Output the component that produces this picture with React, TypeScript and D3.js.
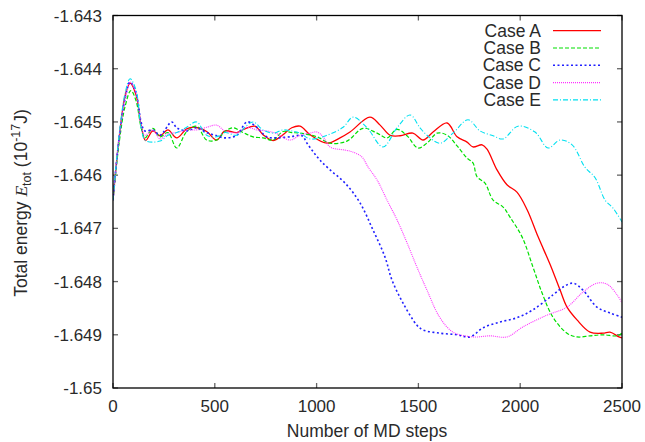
import { useRef, useEffect } from "react";
import * as d3 from "d3";

// [MD step, total energy (1e-17 J)]
const caseA = [
  [0, -1.64647], [30, -1.6453], [60, -1.6445], [84, -1.64427], [113, -1.64449], [138, -1.64506],
  [160, -1.64535], [196, -1.64517], [231, -1.64526], [270, -1.64515], [313, -1.6453], [362, -1.64513],
  [403, -1.6451], [460, -1.64518], [509, -1.64534], [550, -1.64517], [608, -1.6452], [648, -1.64513],
  [697, -1.64508], [737, -1.64524], [786, -1.64535], [835, -1.64524], [878, -1.64511], [919, -1.64508],
  [968, -1.64524], [1051, -1.6454], [1115, -1.6453], [1164, -1.64519], [1262, -1.64491], [1312, -1.64506],
  [1361, -1.64525], [1410, -1.64526], [1473, -1.64521], [1523, -1.64534], [1572, -1.64519], [1641, -1.64502],
  [1690, -1.64528], [1739, -1.64538], [1768, -1.64547], [1813, -1.64543], [1837, -1.64551], [1886, -1.6459],
  [1935, -1.64618], [1984, -1.64632], [2034, -1.64665], [2088, -1.64716], [2147, -1.64768], [2196, -1.64816],
  [2230, -1.64848], [2279, -1.64872], [2343, -1.64895], [2407, -1.64897], [2441, -1.64895], [2485, -1.64904],
  [2500, -1.64906],
];
const caseB = [
  [0, -1.64647], [30, -1.6454], [60, -1.6447], [88, -1.64441], [113, -1.6446], [138, -1.6451],
  [157, -1.6453], [196, -1.64512], [231, -1.64528], [270, -1.6452], [313, -1.64549], [362, -1.64518],
  [411, -1.64508], [460, -1.64534], [509, -1.64534], [550, -1.64518], [589, -1.64511], [639, -1.6452],
  [688, -1.64528], [737, -1.6453], [786, -1.64534], [835, -1.64518], [878, -1.6452], [919, -1.64521],
  [1002, -1.64528], [1066, -1.6454], [1149, -1.64536], [1228, -1.64512], [1297, -1.64521], [1346, -1.6453],
  [1395, -1.64514], [1444, -1.64526], [1498, -1.64549], [1547, -1.64538], [1592, -1.64521], [1641, -1.64525],
  [1690, -1.64545], [1739, -1.64568], [1768, -1.64577], [1788, -1.64603], [1827, -1.64615], [1867, -1.64647],
  [1916, -1.6466], [1950, -1.64679], [2009, -1.64716], [2063, -1.64773], [2107, -1.64821], [2161, -1.64867],
  [2230, -1.64897], [2279, -1.64904], [2343, -1.64902], [2407, -1.649], [2476, -1.64902], [2500, -1.64897],
];
const caseC = [
  [0, -1.64647], [30, -1.6453], [60, -1.64455], [84, -1.64425], [113, -1.64445], [138, -1.645],
  [157, -1.64517], [196, -1.64515], [231, -1.64525], [288, -1.645], [313, -1.64511], [362, -1.64517],
  [411, -1.64511], [460, -1.6452], [501, -1.64525], [550, -1.6453], [608, -1.64525], [658, -1.645],
  [706, -1.6451], [755, -1.64528], [804, -1.6453], [869, -1.64528], [928, -1.64526], [953, -1.6454],
  [983, -1.64556], [1017, -1.64572], [1066, -1.6459], [1140, -1.64615], [1213, -1.64652], [1277, -1.64703],
  [1336, -1.64754], [1370, -1.64797], [1424, -1.6484], [1493, -1.64882], [1523, -1.64891], [1606, -1.64897],
  [1690, -1.649], [1754, -1.64904], [1817, -1.64887], [1901, -1.64876], [1984, -1.64868], [2063, -1.64853],
  [2161, -1.64825], [2220, -1.64808], [2260, -1.64803], [2308, -1.64816], [2377, -1.64848], [2441, -1.64859],
  [2500, -1.64867],
];
const caseD = [
  [0, -1.64647], [30, -1.6453], [60, -1.64455], [84, -1.64425], [113, -1.64445], [138, -1.64505],
  [157, -1.64525], [196, -1.64515], [231, -1.64532], [270, -1.64522], [313, -1.6452], [362, -1.64515],
  [411, -1.64515], [460, -1.6451], [509, -1.64506], [550, -1.64517], [608, -1.6452], [658, -1.6451],
  [706, -1.64515], [755, -1.64517], [804, -1.64522], [869, -1.64534], [919, -1.64525], [968, -1.64521],
  [1002, -1.64519], [1032, -1.64528], [1066, -1.64547], [1140, -1.64553], [1174, -1.64556], [1223, -1.64566],
  [1253, -1.64585], [1297, -1.64609], [1346, -1.64647], [1395, -1.64684], [1444, -1.64727], [1493, -1.64773],
  [1542, -1.64816], [1606, -1.64868], [1670, -1.64895], [1768, -1.64904], [1852, -1.64902], [1935, -1.64904],
  [2014, -1.64885], [2132, -1.64863], [2230, -1.64848], [2308, -1.6482], [2377, -1.64803], [2427, -1.64805],
  [2476, -1.64825], [2500, -1.6484],
];
const caseE = [
  [0, -1.64647], [30, -1.64525], [60, -1.64445], [84, -1.64419], [113, -1.6444], [138, -1.6451],
  [160, -1.64535], [231, -1.64536], [270, -1.64525], [313, -1.6452], [362, -1.6451], [411, -1.645],
  [460, -1.64525], [509, -1.64528], [550, -1.6452], [608, -1.64525], [648, -1.6451], [688, -1.645],
  [737, -1.64515], [786, -1.64521], [835, -1.64515], [878, -1.64517], [919, -1.64521], [968, -1.64532],
  [1051, -1.64525], [1130, -1.6451], [1179, -1.64491], [1248, -1.64511], [1326, -1.64547], [1395, -1.64511],
  [1459, -1.64487], [1508, -1.64511], [1542, -1.64525], [1606, -1.6454], [1670, -1.64521], [1744, -1.64496],
  [1803, -1.64517], [1867, -1.64526], [1916, -1.64532], [1989, -1.64508], [2073, -1.64519], [2137, -1.64549],
  [2196, -1.64534], [2255, -1.64543], [2318, -1.64585], [2368, -1.64605], [2417, -1.64647], [2456, -1.64662],
  [2500, -1.64688],
];

const caseNames = ["Case A", "Case B", "Case C", "Case D", "Case E"];
const caseData = [caseA, caseB, caseC, caseD, caseE];
const caseColors = ["#ff0000", "#00e000", "#2020ff", "#ff30ff", "#00e0f0"];
const caseDashes = ["none", "4,2", "2,2.5", "1,1", "5,2,1,2"];
const caseWidths = [1.3, 1.2, 1.6, 1.1, 1.1];

const xTicks = [0, 500, 1000, 1500, 2000, 2500];
const yTicks = [-1.65, -1.649, -1.648, -1.647, -1.646, -1.645, -1.644, -1.643];
const yTickLabels = ["-1.65", "-1.649", "-1.648", "-1.647", "-1.646", "-1.645", "-1.644", "-1.643"];

const FONT = "'Liberation Sans', Arial, Helvetica, sans-serif";

function drawChart(svgRef) {
    const width = 645,
        height = 442;
    const left = 113, right = 622, top = 15.5, bottom = 388;

    const svg = d3.select(svgRef.current);
    svg.selectAll("*").remove();
    svg.attr("width", width).attr("height", height).attr("viewBox", `0 0 ${width} ${height}`);

    svg.append("rect").attr("width", width).attr("height", height).attr("fill", "#fff");

    const x = d3.scaleLinear().domain([0, 2500]).range([left, right]);
    const y = d3.scaleLinear().domain([-1.65, -1.643]).range([bottom, top]);

    svg.append("defs").append("clipPath").attr("id", "plot-clip")
        .append("rect")
        .attr("x", left).attr("y", top)
        .attr("width", right - left).attr("height", bottom - top);

    // mirrored inward ticks
    const tickLen = 5;
    const ticks = svg.append("g").attr("stroke", "#666").attr("stroke-width", 1.3);
    xTicks.forEach(t => {
        ticks.append("line").attr("x1", x(t)).attr("x2", x(t)).attr("y1", bottom).attr("y2", bottom - tickLen);
        ticks.append("line").attr("x1", x(t)).attr("x2", x(t)).attr("y1", top).attr("y2", top + tickLen);
    });
    yTicks.forEach(t => {
        ticks.append("line").attr("x1", left).attr("x2", left + tickLen).attr("y1", y(t)).attr("y2", y(t));
        ticks.append("line").attr("x1", right).attr("x2", right - tickLen).attr("y1", y(t)).attr("y2", y(t));
    });

    const labels = svg.append("g").attr("font-family", FONT).attr("fill", "#2a2a2a");
    labels.selectAll(".xt")
        .data(xTicks)
        .join("text")
        .attr("x", d => x(d))
        .attr("y", 412)
        .attr("text-anchor", "middle")
        .attr("font-size", 17)
        .text(d => d);
    labels.selectAll(".yt")
        .data(yTicks)
        .join("text")
        .attr("x", 102)
        .attr("y", d => y(d) + 6)
        .attr("text-anchor", "end")
        .attr("font-size", 17)
        .text((d, i) => yTickLabels[i]);

    labels.append("text")
        .attr("x", 367)
        .attr("y", 437)
        .attr("text-anchor", "middle")
        .attr("font-size", 17.5)
        .text("Number of MD steps");

    const yl = labels.append("text")
        .attr("transform", "translate(27,203) rotate(-90)")
        .attr("text-anchor", "middle")
        .attr("font-size", 17.5);
    yl.append("tspan").text("Total energy ");
    yl.append("tspan").attr("font-family", "'Liberation Serif', 'DejaVu Serif', serif").attr("font-style", "italic").text("E");
    yl.append("tspan").attr("font-size", 12.5).attr("dy", 4).text("tot");
    yl.append("tspan").attr("dy", -4).text(" (10");
    yl.append("tspan").attr("font-size", 12.5).attr("dy", -7).text("-17");
    yl.append("tspan").attr("dy", 7).text("J)");

    const line = d3.line()
        .x(d => x(d[0]))
        .y(d => y(d[1]))
        .curve(d3.curveCatmullRom.alpha(0.5));

    const plot = svg.append("g").attr("clip-path", "url(#plot-clip)");
    caseData.forEach((data, i) => {
        plot.append("path")
            .attr("d", line(data))
            .attr("fill", "none")
            .attr("stroke", caseColors[i])
            .attr("stroke-width", caseWidths[i])
            .attr("stroke-dasharray", caseDashes[i]);
    });

    // legend
    const legend = svg.append("g");
    caseNames.forEach((name, i) => {
        const ly = 30.7 + i * 17.3;
        legend.append("text")
            .attr("x", 541)
            .attr("y", ly + 6)
            .attr("text-anchor", "end")
            .attr("font-family", FONT)
            .attr("font-size", 17.5)
            .attr("fill", "#2a2a2a")
            .text(name);
        legend.append("line")
            .attr("x1", 553).attr("x2", 601)
            .attr("y1", ly).attr("y2", ly)
            .attr("stroke", caseColors[i])
            .attr("stroke-width", caseWidths[i])
            .attr("stroke-dasharray", caseDashes[i]);
    });

    svg.append("rect")
        .attr("x", left).attr("y", top)
        .attr("width", right - left).attr("height", bottom - top)
        .attr("fill", "none")
        .attr("stroke", "#000")
        .attr("stroke-width", 1.3);
}

export default function App() {
    const svg = useRef(null);
    useEffect(() => {
        drawChart(svg);
    }, [svg]);

    return <svg ref={svg} style={{ position: "absolute", left: 0, top: 0, display: "block" }} />;
}
